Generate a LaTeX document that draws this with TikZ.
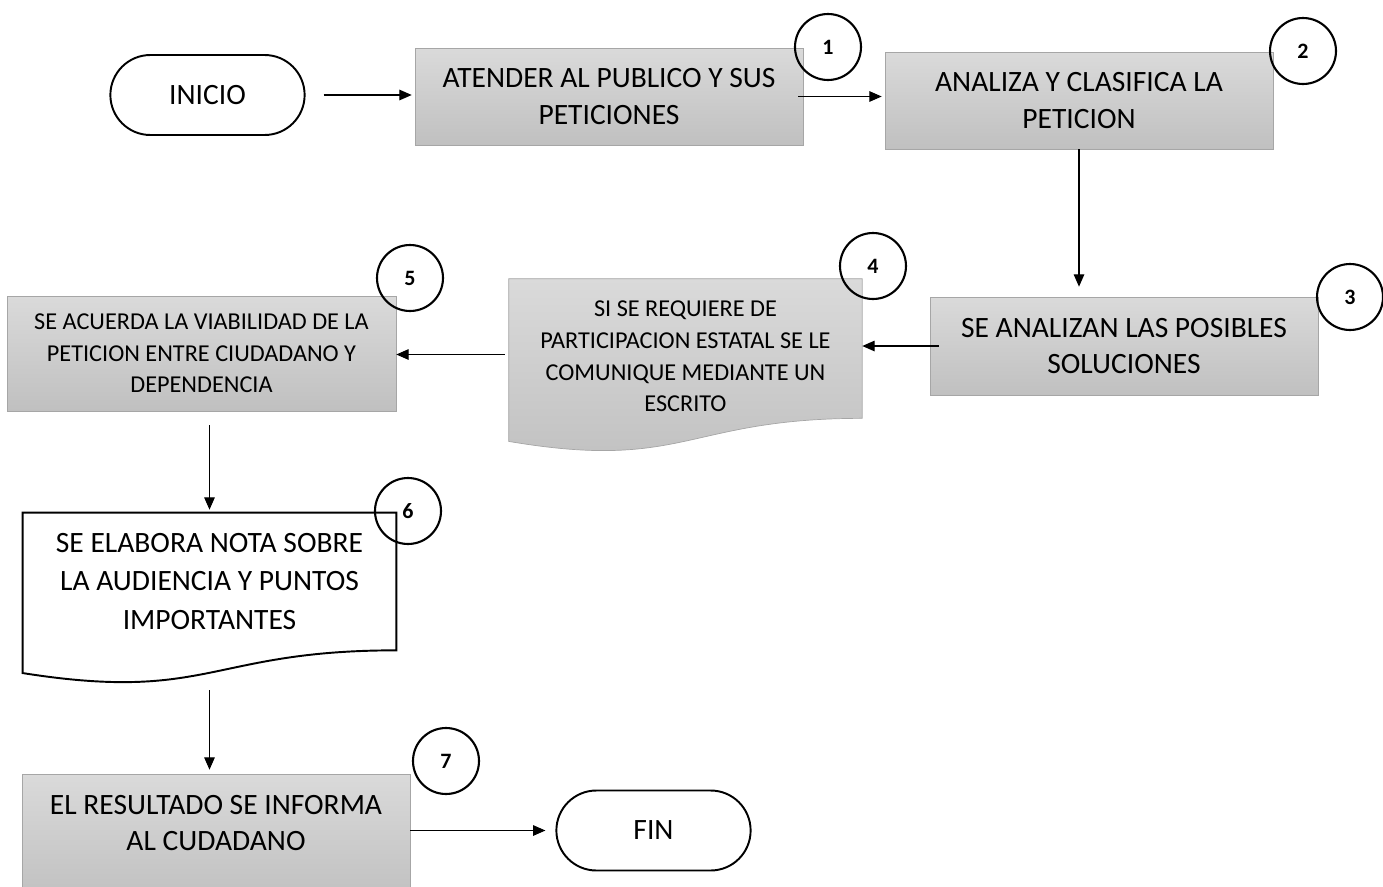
\documentclass[tikz,border=0pt]{standalone}
\usepackage{fontspec}
\setmainfont{Carlito}
\usetikzlibrary{calc, positioning, shapes.misc, arrows.meta, backgrounds}

\definecolor{boxtop}{HTML}{DADADA}
\definecolor{boxbot}{HTML}{C0C0C0}
\definecolor{boxline}{HTML}{A6A6A6}

\newcommand\bigtxt{\fontsize{16.8}{21}\selectfont}
\newcommand\smalltxt{\fontsize{13.8}{18}\selectfont}
% wavy bottom of a document box, round a named node
\newcommand\docpath[1]{(#1.north west) -- (#1.north east) -- (#1.south east)
    .. controls (#1.south) and ($(#1.north)!1.38!(#1.south)$)
    .. ($(#1.north west)!1.165!(#1.south west)$) -- cycle}

\begin{document}
\begin{tikzpicture}[x=0.02cm, y=-0.02cm,
    gbox/.style={rectangle, draw=boxline, top color=boxtop, bottom color=boxbot,
        align=center, inner sep=0, minimum width=7.76cm},
    docbox/.style={rectangle, align=center, inner sep=0},
    ends/.style={rounded rectangle, draw, line width=1.1pt, minimum width=4.12cm,
        minimum height=1.6cm, font=\bigtxt},
    num/.style={circle, draw, line width=1.2pt, minimum size=1.32cm, inner sep=0,
        font=\fontsize{12.5}{14}\selectfont\bfseries},
    flow/.style={-{Triangle[length=7pt, width=6pt]}, line width=0.6pt}]
% page
\useasboundingbox (0,0) rectangle (1383,886);
\clip (0,0) rectangle (1383,886);

% Start and end
\node[ends] (inicio) at (207.5,95) {INICIO};
\node[ends] (fin) at (653.5,830.5) {FIN};

% Steps
\node[gbox, minimum height=1.94cm, font=\bigtxt] (box1) at (609,96.5)
    {ATENDER AL PUBLICO Y SUS\\PETICIONES};
\node[gbox, minimum height=1.94cm, font=\bigtxt] (box2) at (1079,100.5)
    {ANALIZA Y CLASIFICA LA\\PETICION};
\node[gbox, minimum height=1.96cm, font=\bigtxt] (box3) at (1124,346)
    {SE ANALIZAN LAS POSIBLES\\SOLUCIONES};
\node[docbox, minimum width=7.06cm, minimum height=2.78cm, font=\smalltxt] (box4) at (685.5,348.5)
    {\rule{0pt}{18pt}SI SE REQUIERE DE\\PARTICIPACION ESTATAL SE LE\\COMUNIQUE MEDIANTE UN\\ESCRITO};
\node[gbox, minimum width=7.78cm, minimum height=2.3cm, font=\smalltxt] (box5) at (201.5,353.5)
    {SE ACUERDA LA VIABILIDAD DE LA\\PETICION ENTRE CIUDADANO Y\\DEPENDENCIA};
\node[docbox, minimum width=7.46cm, minimum height=2.74cm, font=\fontsize{16.8}{22}\selectfont] (box6) at (209.5,581.5)
    {SE ELABORA NOTA SOBRE\\LA AUDIENCIA Y PUNTOS\\IMPORTANTES};
\node[gbox, minimum height=2.52cm, font=\fontsize{16.8}{20}\selectfont] (box7) at (216,837)
    {EL RESULTADO SE INFORMA\\AL CUDADANO\\[-4pt]\mbox{}};

% Document outlines
\begin{scope}[on background layer]
\path[draw=boxline, top color=boxtop, bottom color=boxbot] \docpath{box4};
\path[draw, line width=1.1pt, fill=white] \docpath{box6};
\end{scope}

% Numbers
\node[num] (n1) at (828,47) {1};
\node[num] (n2) at (1303,51) {2};
\node[num] (n3) at (1350,297) {3};
\node[num] (n4) at (873,266) {4};
\node[num] (n5) at (410,278) {5};
\node[num] (n6) at (408,511) {6};
\node[num] (n7) at (446,761) {7};

% Arrows
\draw[flow, shorten <=0.36cm, shorten >=0.06cm] (inicio.east) -- (inicio.east -| box1.west);
\draw[flow, shorten <=-0.1cm, shorten >=0.06cm] (box1.east) -- (box1.east -| box2.west);
\draw[flow, shorten >=0.2cm] (box2.south) -- (box2.south |- box3.north);
\draw[flow, shorten <=-0.18cm] (box3.west) -- (box3.west -| box4.east);
\draw[flow, shorten <=0.08cm] ([yshift=-0.12cm]box4.west) -- ([yshift=-0.12cm]box4.west -| box5.east);
\draw[flow, shorten <=0.28cm, shorten >=0.06cm] (box6.north |- box5.south) -- (box6.north);
\draw[flow, shorten <=0.8cm, shorten >=0.08cm] (box6.south) -- (box6.south |- box7.north);
\draw[flow, shorten >=0.2cm] (fin.west -| box7.east) -- (fin.west);
\end{tikzpicture}
\end{document}
